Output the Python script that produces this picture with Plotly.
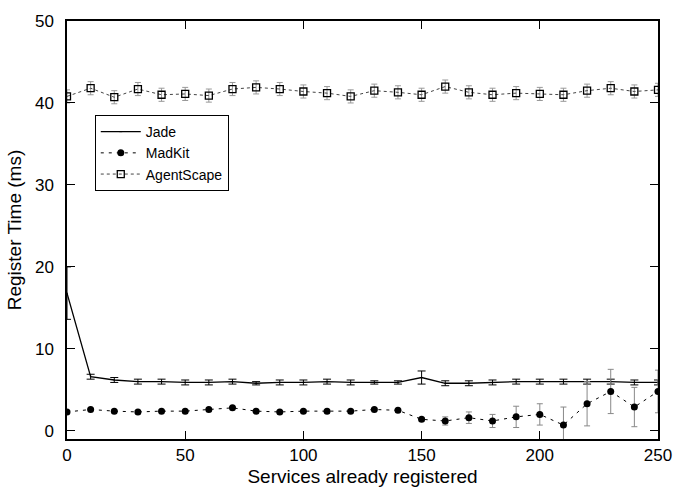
import plotly.graph_objects as go

x_services = [0, 10, 20, 30, 40, 50, 60, 70, 80, 90, 100, 110, 120, 130, 140, 150,
              160, 170, 180, 190, 200, 210, 220, 230, 240, 250]

jade = [16.8, 6.6, 6.2, 6.0, 6.0, 5.9, 5.9, 6.0, 5.8, 5.9, 5.9, 6.0, 5.9, 5.9, 5.9, 6.5,
        5.8, 5.8, 5.9, 6.0, 6.0, 6.0, 6.0, 6.0, 5.9, 5.9]
jade_err = [3.2, 0.3, 0.3, 0.3, 0.3, 0.3, 0.3, 0.3, 0.2, 0.3, 0.3, 0.3, 0.3, 0.2, 0.2, 0.8,
            0.3, 0.3, 0.3, 0.3, 0.3, 0.3, 0.3, 0.3, 0.3, 0.3]

madkit = [2.3, 2.6, 2.4, 2.3, 2.4, 2.4, 2.6, 2.8, 2.4, 2.3, 2.4, 2.4, 2.4, 2.6, 2.5, 1.4,
          1.2, 1.6, 1.2, 1.7, 2.0, 0.7, 3.3, 4.8, 2.9, 4.8]
madkit_err = [0.1, 0.1, 0.1, 0.1, 0.1, 0.1, 0.1, 0.1, 0.1, 0.1, 0.1, 0.1, 0.1, 0.1, 0.1, 0.2,
              0.5, 0.7, 0.8, 1.3, 1.3, 2.2, 2.7, 2.7, 2.4, 2.6]

agentscape = [40.8, 41.8, 40.7, 41.7, 41.0, 41.1, 40.9, 41.7, 41.9, 41.7, 41.4, 41.2, 40.8,
              41.5, 41.3, 41.0, 42.0, 41.3, 41.0, 41.2, 41.1, 41.0, 41.5, 41.8, 41.4, 41.6]
agentscape_err = [0.8] * 26

series_names = ["Jade", "MadKit", "AgentScape"]

FONT = "Liberation Sans, Arial, Helvetica, sans-serif"

fig = go.Figure()

fig.add_trace(go.Scatter(
    x=x_services, y=jade, name=series_names[0], mode="lines+markers",
    line=dict(color="black", width=1.3),
    marker=dict(symbol="line-ew", size=1, color="black", line=dict(width=1, color="black")),
    error_y=dict(type="data", array=jade_err, color="black", thickness=1, width=4),
))

fig.add_trace(go.Scatter(
    x=x_services, y=madkit, name=series_names[1], mode="lines+markers",
    line=dict(color="black", width=1, dash="3px,5px"),
    marker=dict(symbol="circle", size=7, color="black"),
    error_y=dict(type="data", array=madkit_err, color="#888888", thickness=1, width=3),
))

fig.add_trace(go.Scatter(
    x=x_services, y=agentscape, name=series_names[2], mode="lines+markers",
    line=dict(color="#444444", width=1, dash="dot"),
    marker=dict(symbol="square-open", size=7, color="black", line=dict(width=1.3)),
    error_y=dict(type="data", array=agentscape_err, color="#999999", thickness=1, width=3),
))

axis_common = dict(
    showline=True, linecolor="black", linewidth=1.5, mirror="allticks",
    ticks="inside", ticklen=8, tickwidth=1, tickcolor="black",
    showgrid=False, zeroline=False,
    tickfont=dict(family=FONT, size=17, color="black"),
)

fig.update_xaxes(
    range=[0, 250], tickmode="array", tickvals=[0, 50, 100, 150, 200, 250],
    title=dict(text="Services already registered", font=dict(family=FONT, size=19, color="black"),
               standoff=6),
    **axis_common,
)
fig.update_yaxes(
    range=[-1, 50], tickmode="array", tickvals=[0, 10, 20, 30, 40, 50],
    ticklabelstandoff=8,
    title=dict(text="Register Time (ms)", font=dict(family=FONT, size=19, color="black"),
               standoff=8),
    **axis_common,
)

fig.update_layout(
    width=684, height=496,
    margin=dict(l=67, r=17, t=14, b=56),
    plot_bgcolor="white", paper_bgcolor="white",
    font=dict(family=FONT, color="black"),
    showlegend=True,
    legend=dict(
        x=0.047, y=0.775, xanchor="left", yanchor="top",
        bgcolor="white", bordercolor="black", borderwidth=1,
        font=dict(family=FONT, size=14, color="black"),
        tracegroupgap=0, itemwidth=40,
    ),
)

fig.write_html("out.html")
